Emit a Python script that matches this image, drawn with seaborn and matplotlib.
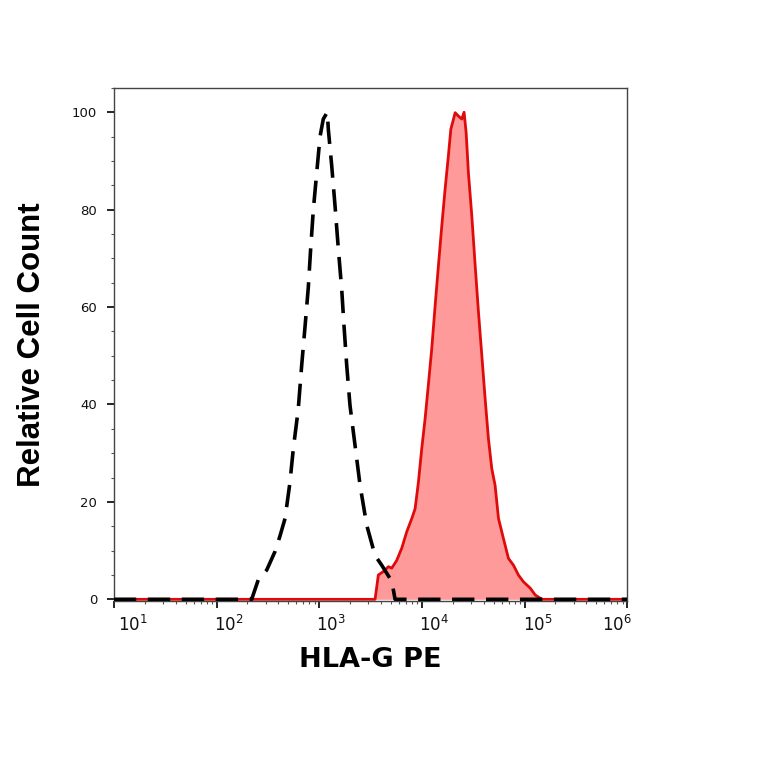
import matplotlib
matplotlib.use("Agg")
import matplotlib.pyplot as plt
import matplotlib.transforms as mtransforms
from matplotlib.ticker import FixedLocator, MultipleLocator, LogLocator, NullFormatter
import numpy as np
import pandas as pd
import seaborn as sns

# isotype control (black dashed)
iso_x = [10, 220, 255, 308, 371, 415, 465, 519, 560, 625,
         675, 728, 783, 826, 877, 946, 1019, 1096, 1199, 1227,
         1324, 1426, 1535, 1656, 1746, 1854, 1995, 2234, 2500, 2904,
         3499, 4064, 5093, 5483, 1e6]
iso_y = [0, 0, 4, 6, 9.8, 13, 16.6, 24, 31, 39,
         48, 56, 64, 72, 80, 87.6, 95, 98.6, 100, 96.5,
         89, 80.8, 72, 63.7, 56, 48, 39.8, 31.6, 23.4, 15.2,
         9, 7, 3.7, 0, 0]

# HLA-G PE stained (red filled)
pos_x = [10, 3500, 3767, 4217, 4721, 5093, 5689, 6368, 7129, 7980,
         8590, 9247, 9977, 10740, 11560, 12470, 13460, 14490, 15630, 16830,
         18110, 19140, 21090, 22700, 24490, 25760, 26980, 28380, 30620, 33040,
         35560, 38370, 41300, 44460, 47970, 51640, 55720, 62230, 69660, 77980,
         87100, 97500, 113500, 126800, 147600, 1e6]
pos_y = [0, 0, 5, 5.7, 6.7, 6.4, 8, 10.5, 13.9, 16.6,
         18.6, 24, 31, 37, 44, 51.4, 60.3, 68.5, 76.7, 84.2,
         91, 96.5, 99.9, 99.2, 98.6, 100, 95.8, 87.6, 78.8, 68.5,
         59, 50, 41.2, 33, 26.8, 23.4, 16.6, 12.5, 8.4, 7,
         5, 3.6, 2.3, 0.9, 0, 0]

x_ticks = [1e1, 1e2, 1e3, 1e4, 1e5, 1e6]
x_labels = [r"$10^{1}$", r"$10^{2}$", r"$10^{3}$", r"$10^{4}$", r"$10^{5}$", r"$10^{6}$"]
y_ticks = [0, 20, 40, 60, 80, 100]

sns.set_theme(style="ticks")
plt.rcParams["font.family"] = ["DejaVu Sans"]

fig = plt.figure(figsize=(7.64, 7.64), dpi=100)
ax = fig.add_axes([0.149, 0.213, 0.672, 0.672])

iso = pd.DataFrame({"x": iso_x, "y": iso_y})
pos = pd.DataFrame({"x": pos_x, "y": pos_y})

ax.fill_between(pos["x"], pos["y"], 0, color="#ff9a9a", lw=0, zorder=1)
sns.lineplot(data=pos, x="x", y="y", ax=ax, color="#e00a0a", lw=2.0,
             estimator=None, sort=False, zorder=2)
sns.lineplot(data=iso, x="x", y="y", ax=ax, color="black", lw=2.6,
             estimator=None, sort=False, zorder=3,
             linestyle=(0, (6.2, 3.2)))

ax.set_xscale("log")
ax.set_xlim(10, 1e6)
ax.set_ylim(-0.4, 105)

ax.xaxis.set_major_locator(FixedLocator(x_ticks))
ax.set_xticklabels(x_labels)
ax.xaxis.set_minor_locator(LogLocator(base=10, subs=np.arange(2, 10)))
ax.xaxis.set_minor_formatter(NullFormatter())
ax.set_yticks(y_ticks)
ax.yaxis.set_minor_locator(MultipleLocator(5))

ax.tick_params(axis="both", which="major", direction="out", length=5,
               width=1.2, color="black", labelsize=9.5, labelcolor="#111111")
ax.tick_params(axis="both", which="minor", direction="out", length=2.5,
               width=0.8, color="#555555")
ax.tick_params(axis="x", which="major", pad=5)
ax.tick_params(axis="y", which="major", pad=7)

# the decade labels are nudged sideways from their ticks (pixels)
nudges = [19, 12, 12, 12, 13, -10]
for lab, dx in zip(ax.get_xticklabels(), nudges):
    shift = mtransforms.ScaledTranslation(dx / 100, 0, fig.dpi_scale_trans)
    lab.set_transform(lab.get_transform() + shift)
    lab.set_fontsize(12)

for side in ["top", "right", "bottom", "left"]:
    ax.spines[side].set_visible(True)
    ax.spines[side].set_color("#444444")
    ax.spines[side].set_linewidth(1.0)

ax.set_xlabel("HLA-G PE", fontsize=19.5, fontweight="bold", color="black",
              family="DejaVu Sans", va="center")
ax.xaxis.set_label_coords(0.5, -0.115)
ax.set_ylabel("Relative Cell Count", fontsize=22.5, fontweight="bold", color="black",
              family="Liberation Sans", va="center")
ax.yaxis.set_label_coords(-0.16, 0.5)

fig.savefig("out.png", dpi=100, facecolor="white")
